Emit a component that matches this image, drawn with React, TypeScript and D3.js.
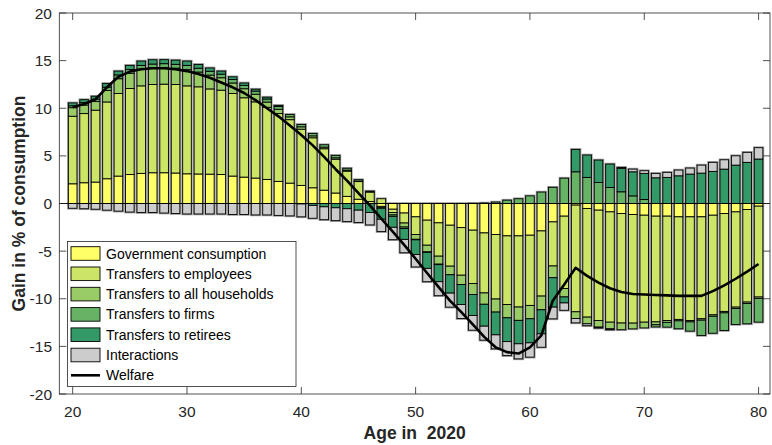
import React from "react"
import * as d3 from "d3"

// ages 20..80 (categories)
const ages = d3.range(20, 81)

const gov = [2.07, 2.18, 2.25, 2.6, 2.88, 3.05, 3.16, 3.23, 3.23, 3.2,
  3.12, 3.1, 3.08, 3.05, 2.88, 2.77, 2.67, 2.53, 2.32, 2.14,
  1.9, 1.65, 1.4, 1.1, 0.75, 0.45, 0.2, -0.3, -0.6, -1.0,
  -1.4, -1.75, -2.03, -2.28, -2.53, -2.8, -3.09, -3.26, -3.4, -3.4,
  -3.33, -2.88, -1.93, -1.33, -0.17, -0.53, -0.7, -0.88, -1.05, -1.16,
  -1.23, -1.33, -1.33, -1.4, -1.4, -1.4, -1.23, -1.05, -0.88, -0.63, -0.28]

const employees = [7.09, 7.26, 7.55, 8.06, 8.67, 9.02, 9.19, 9.26, 9.3, 9.29,
  9.23, 9.15, 8.95, 8.85, 8.67, 8.33, 8.0, 7.57, 7.12, 6.66,
  5.9, 5.25, 4.35, 3.55, 2.65, 1.85, 1.0, 0.5, -0.35, -1.05,
  -1.86, -2.63, -3.5, -4.3, -5.0, -5.6, -6.3, -6.77, -7.2, -7.47,
  -7.37, -6.84, -4.63, -7.6, -11.2, -11.4, -11.58, -11.58, -11.5, -11.4,
  -11.23, -11.1, -10.95, -10.77, -10.88, -10.7, -10.46, -10.28, -10.0, -9.72, -9.54]

const households = [0.9, 0.9, 0.9, 1.2, 1.55, 1.6, 1.75, 1.75, 1.75, 1.72,
  1.7, 1.55, 1.45, 1.3, 1.1, 0.95, 0.8, 0.55, 0.45, 0.3,
  0.25, 0.2, 0.17, 0.15, 0.1, 0.05, 0.0, -0.15, -0.25, -0.42,
  -0.5, -0.7, -0.84, -0.88, -0.98, -1.16, -1.19, -1.37, -1.4, -1.4,
  -1.4, -1.44, -1.23, -0.88, -0.7, -0.7, -0.7, -0.7, -0.7, -0.6,
  -0.6, -0.3, -0.2, -0.15, -0.15, -0.15, -0.15, -0.15, -0.15, -0.15, -0.15]

const firms = [0.2, 0.25, 0.25, 0.35, 0.4, 0.4, 0.4, 0.4, 0.4, 0.4,
  0.45, 0.4, 0.4, 0.38, 0.37, 0.35, 0.33, 0.32, 0.3, 0.25,
  0.25, 0.25, 0.25, 0.25, 0.2, 0.15, 0.1, -0.05, -0.15, -0.15,
  -0.05, -0.05, -0.05, -0.02, 0.0, 0.02, 0.05, 0.15, 0.35, 0.5,
  0.8, 1.2, 1.7, 2.66, 3.33, 2.74, 2.21, 1.68, 1.23, 0.8,
  0.42, -0.23, -0.5, -0.83, -0.97, -1.6, -1.78, -1.85, -1.67, -2.13, -2.48]

const retirees = [0.3, 0.31, 0.31, 0.39, 0.4, 0.43, 0.45, 0.45, 0.42, 0.44,
  0.45, 0.4, 0.35, 0.32, 0.28, 0.25, 0.2, 0.19, 0.11, 0.0,
  -0.05, -0.2, -0.35, -0.45, -0.55, -0.7, -0.95, -1.15, -1.15, -1.15,
  -1.55, -1.68, -1.79, -1.93, -2.1, -2.2, -2.3, -2.39, -2.5, -2.46,
  -2.53, -2.53, -3.09, -0.63, 2.35, 2.35, 2.35, 2.46, 2.46, 2.53,
  2.74, 2.7, 2.74, 2.91, 3.09, 3.19, 3.37, 3.61, 4.03, 4.32, 4.67]

const interactions = [-0.5, -0.55, -0.6, -0.7, -0.8, -0.9, -0.95, -0.95, -1.0, -1.05,
  -1.1, -1.1, -1.1, -1.1, -1.15, -1.15, -1.2, -1.2, -1.25, -1.3,
  -1.35, -1.35, -1.35, -1.35, -1.35, -1.3, -1.3, -1.3, -1.3, -1.4,
  -1.3, -1.4, -1.47, -1.47, -1.47, -1.54, -1.47, -1.47, -1.47, -1.58,
  -1.5, -1.4, -1.23, -0.77, -0.46, -0.2, -0.1, -0.1, 0.1, 0.28,
  0.28, 0.46, 0.53, 0.6, 0.63, 0.84, 0.95, 0.98, 0.98, 1.05, 1.19]

const welfare = [10.1, 10.45, 10.95, 12.2, 13.3, 13.85, 14.1, 14.2, 14.2, 14.1,
  13.9, 13.6, 13.2, 12.7, 12.2, 11.6, 10.85, 10.0, 9.15, 8.2,
  7.2, 6.1, 4.9, 3.6, 2.4, 1.1, -0.2, -1.6, -2.95, -4.35,
  -5.8, -7.3, -8.75, -10.2, -11.4, -12.7, -14.0, -15.1, -15.6, -15.75,
  -15.1, -13.85, -10.2, -8.5, -6.75, -7.6, -8.3, -8.9, -9.3, -9.5,
  -9.55, -9.6, -9.65, -9.7, -9.7, -9.7, -9.2, -8.6, -7.9, -7.15, -6.35]

const seriesKeys = ["gov", "employees", "households", "firms", "retirees", "interactions"]
const seriesNames = [
  "Government consumption",
  "Transfers to employees",
  "Transfers to all households",
  "Transfers to firms",
  "Transfers to retirees",
  "Interactions",
]
const seriesColors = ["#ffff66", "#cce566", "#99cc66", "#66b366", "#339966", "#cccccc"]

const xTicks = [20, 30, 40, 50, 60, 70, 80]
const yTicks = [-20, -15, -10, -5, 0, 5, 10, 15, 20]

const W = 772
const H = 445
const plot = { left: 59.3, right: 770, top: 13, bottom: 394 }
const font = "'Liberation Sans', Arial, Helvetica, sans-serif"
const axisColor = "#262626"

export default function App() {
  const x = d3.scaleLinear().domain([18.83, 81]).range([plot.left, plot.right])
  const y = d3.scaleLinear().domain([-20, 20]).range([plot.bottom, plot.top])
  const barW = 8.6

  const table = ages.map((a, i) => ({
    age: a,
    gov: gov[i],
    employees: employees[i],
    households: households[i],
    firms: firms[i],
    retirees: retirees[i],
    interactions: interactions[i],
  }))

  const stacked = d3.stack<any>().keys(seriesKeys).offset(d3.stackOffsetDiverging)(table)

  // extents per bar, for the grey halo behind the outlines
  const extents = ages.map((_, i) => {
    let hi = 0
    let lo = 0
    stacked.forEach((s) => {
      hi = Math.max(hi, s[i][1], s[i][0])
      lo = Math.min(lo, s[i][0], s[i][1])
    })
    return { hi, lo }
  })

  const line = d3
    .line<number>()
    .x((_, i) => x(ages[i]))
    .y((d) => y(d))

  const legendX = 67.5
  const legendY = 241.5
  const rowH = 20.3

  return (
    <svg
      width={W}
      height={H}
      style={{ position: "absolute", left: 0, top: 0, background: "#fff" }}
      fontFamily={font}
    >
      <rect x={0} y={0} width={W} height={H} fill="#fff" />

      {/* halos */}
      <g>
        {extents.map((e, i) => (
          <g key={i}>
            {e.hi > 0 && (
              <rect
                x={x(ages[i]) - barW / 2}
                y={y(e.hi)}
                width={barW}
                height={y(0) - y(e.hi)}
                fill="none"
                stroke="#9a9a9a"
                strokeWidth={2.6}
              />
            )}
            {e.lo < 0 && (
              <rect
                x={x(ages[i]) - barW / 2}
                y={y(0)}
                width={barW}
                height={y(e.lo) - y(0)}
                fill="none"
                stroke="#9a9a9a"
                strokeWidth={2.6}
              />
            )}
          </g>
        ))}
      </g>

      {/* stacked segments */}
      {stacked.map((s, k) => (
        <g key={s.key} fill={seriesColors[k]} stroke="#000" strokeWidth={0.9}>
          {s.map((d, i) => {
            const top = y(Math.max(d[0], d[1]))
            const h = Math.abs(y(d[0]) - y(d[1]))
            if (h < 0.05) return null
            return <rect key={i} x={x(ages[i]) - barW / 2} y={top} width={barW} height={h} />
          })}
        </g>
      ))}

      {/* baseline */}
      <line x1={plot.left} x2={plot.right} y1={y(0)} y2={y(0)} stroke="#000" strokeWidth={1} />

      {/* welfare */}
      <path d={line(welfare) || ""} fill="none" stroke="#000" strokeWidth={2.6} strokeLinejoin="round" />

      {/* axes box */}
      <rect
        x={plot.left}
        y={plot.top}
        width={plot.right - plot.left}
        height={plot.bottom - plot.top}
        fill="none"
        stroke={axisColor}
        strokeWidth={0.8}
      />
      {xTicks.map((t) => (
        <g key={t}>
          <line x1={x(t)} x2={x(t)} y1={plot.bottom} y2={plot.bottom - 7} stroke={axisColor} strokeWidth={0.8} />
          <line x1={x(t)} x2={x(t)} y1={plot.top} y2={plot.top + 7} stroke={axisColor} strokeWidth={0.8} />
          <text x={x(t)} y={411} textAnchor="middle" dominantBaseline="central" fontSize={15.5} fill={axisColor}>
            {t}
          </text>
        </g>
      ))}
      {yTicks.map((t) => (
        <g key={t}>
          <line x1={plot.left} x2={plot.left + 7} y1={y(t)} y2={y(t)} stroke={axisColor} strokeWidth={0.8} />
          <line x1={plot.right} x2={plot.right - 7} y1={y(t)} y2={y(t)} stroke={axisColor} strokeWidth={0.8} />
          <text x={52} y={y(t)} textAnchor="end" dominantBaseline="central" fontSize={15.5} fill={axisColor}>
            {t}
          </text>
        </g>
      ))}

      <text
        transform={`translate(19, ${(plot.top + plot.bottom) / 2}) rotate(-90)`}
        textAnchor="middle"
        dominantBaseline="central"
        fontSize={17.5}
        fontWeight="bold"
        fill={axisColor}
      >
        Gain in % of consumption
      </text>
      <text
        x={(plot.left + plot.right) / 2}
        y={433}
        textAnchor="middle"
        dominantBaseline="central"
        fontSize={17.5}
        fontWeight="bold"
        fill={axisColor}
        style={{ whiteSpace: "pre" }}
      >
        Age in  2020
      </text>

      {/* legend */}
      <g>
        <rect x={legendX} y={legendY} width={228.5} height={145} fill="#fff" stroke={axisColor} strokeWidth={0.8} />
        {seriesNames.map((name, k) => {
          const cy = legendY + 12 + k * rowH
          return (
            <g key={name}>
              <rect x={71} y={cy - 6.8} width={29} height={13.6} fill={seriesColors[k]} stroke="#000" strokeWidth={0.9} />
              <text x={106} y={cy} dominantBaseline="central" fontSize={14} fill="#000">
                {name}
              </text>
            </g>
          )
        })}
        <line
          x1={71}
          x2={100}
          y1={legendY + 12 + 6 * rowH}
          y2={legendY + 12 + 6 * rowH}
          stroke="#000"
          strokeWidth={2.6}
        />
        <text x={106} y={legendY + 12 + 6 * rowH} dominantBaseline="central" fontSize={14} fill="#000">
          Welfare
        </text>
      </g>
    </svg>
  )
}
